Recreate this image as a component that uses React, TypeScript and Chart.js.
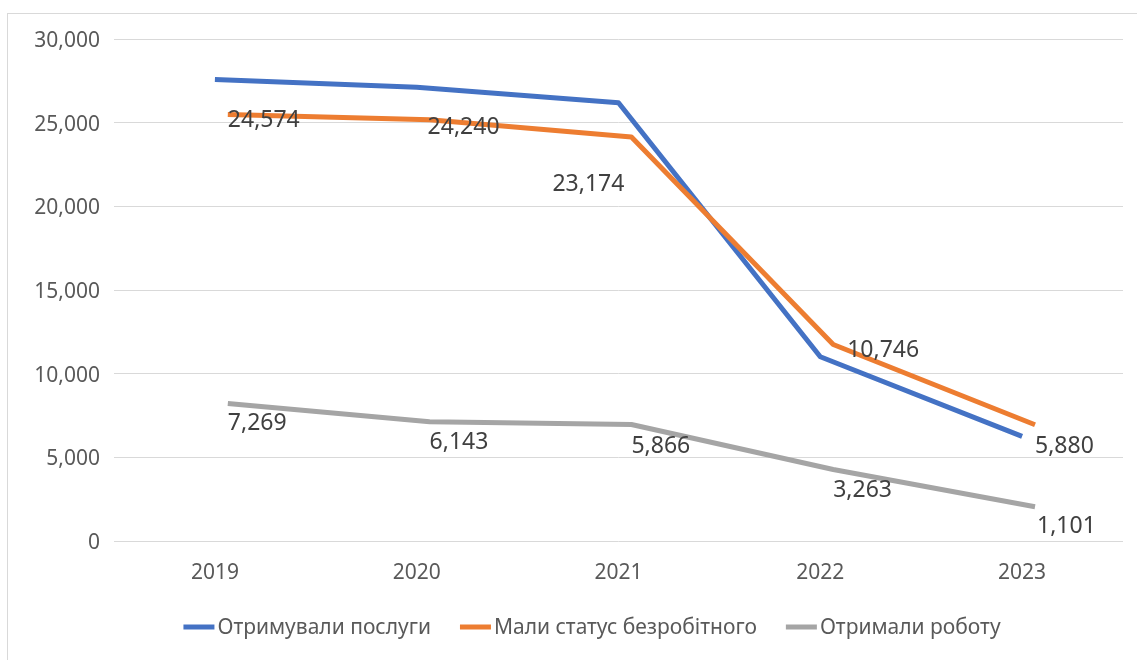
import React, { useEffect, useRef } from 'react';
import { Chart, registerables } from 'chart.js';

Chart.register(...registerables);

// ---------- data ----------
const years = ['2019', '2020', '2021', '2022', '2023'];
const seriesNames = ['Отримували послуги', 'Мали статус безробітного', 'Отримали роботу'];
const receivedServices = [27580, 27120, 26190, 11010, 6250];
const unemployedStatus = [25490, 25180, 24150, 11740, 6950];
const gotJob = [8220, 7120, 6960, 4270, 2050];
// data labels printed on the chart
const statusLabelValues = [24574, 24240, 23174, 10746, 5880];
const jobLabelValues = [7269, 6143, 5866, 3263, 1101];
const yMin = 0;
const yMax = 30000;
const yStep = 5000;

// ---------- style / placement ----------
const COLORS = ['#4472C4', '#ED7D31', '#A5A5A5'];
const FONT = "'Noto Sans', 'DejaVu Sans', sans-serif";
const SHIFT = 0.064; // orange & grey series drawn slightly right of category centre
const statusLabelOffsets = [
  [0, -11],
  [-2, -10],
  [-79, 30],
  [14, -12],
  [0, 2],
];
const jobLabelOffsets = [
  [0, 2],
  [0, 3],
  [0, 2],
  [0, 2],
  [2, 2],
];

const framePlugin = {
  id: 'frame',
  beforeDraw(chart: any) {
    const ctx = chart.ctx;
    ctx.save();
    ctx.fillStyle = '#ffffff';
    ctx.fillRect(0, 0, chart.width, chart.height);
    ctx.strokeStyle = '#d9d9d9';
    ctx.lineWidth = 1;
    ctx.strokeRect(7.5, 13.5, chart.width + 20, chart.height + 20);
    ctx.restore();
  },
};

const labelsPlugin = {
  id: 'valueLabels',
  afterDatasetsDraw(chart: any) {
    const ctx = chart.ctx;
    const xs = chart.scales.x2;
    const ys = chart.scales.y;
    const size = 23;
    ctx.save();
    ctx.font = `${size}px ${FONT}`;
    ctx.fillStyle = '#404040';
    ctx.textAlign = 'left';
    ctx.textBaseline = 'alphabetic';
    const draw = (vals: number[], offs: number[][]) => {
      vals.forEach((v, i) => {
        const x = xs.getPixelForValue(i) + offs[i][0];
        const y = ys.getPixelForValue(v) + offs[i][1] + size * 0.357;
        ctx.fillText(v.toLocaleString('en-US'), x, y);
      });
    };
    draw(statusLabelValues, statusLabelOffsets);
    draw(jobLabelValues, jobLabelOffsets);
    ctx.restore();
  },
};

const legendPlugin = {
  id: 'customLegend',
  afterDraw(chart: any) {
    const ctx = chart.ctx;
    const size = 21;
    const symW = 31;
    const symGap = 3;
    const itemGap = 29;
    const centerX = 592;
    const cy = 627;
    ctx.save();
    ctx.font = `${size}px ${FONT}`;
    const widths = seriesNames.map((n) => ctx.measureText(n).width);
    const total = widths.reduce((a, w) => a + symW + symGap + w, 0) + itemGap * (seriesNames.length - 1);
    let x = centerX - total / 2;
    seriesNames.forEach((n, i) => {
      ctx.strokeStyle = COLORS[i];
      ctx.lineWidth = 5;
      ctx.lineCap = 'butt';
      ctx.beginPath();
      ctx.moveTo(x, cy);
      ctx.lineTo(x + symW, cy);
      ctx.stroke();
      x += symW + symGap;
      ctx.fillStyle = '#595959';
      ctx.textAlign = 'left';
      ctx.textBaseline = 'middle';
      ctx.fillText(n, x, cy + 1);
      x += widths[i] + itemGap;
    });
    ctx.restore();
  },
};

export default function App() {
  const ref = useRef<HTMLCanvasElement>(null);

  useEffect(() => {
    const canvas = ref.current!;
    const lineStyle = (i: number) => ({
      borderColor: COLORS[i],
      backgroundColor: COLORS[i],
      borderWidth: 5,
      pointRadius: 0,
      pointHoverRadius: 0,
      tension: 0,
      borderJoinStyle: 'round' as const,
      borderCapStyle: 'butt' as const,
      fill: false,
    });
    const chart = new Chart(canvas, {
      type: 'line',
      data: {
        labels: years,
        datasets: [
          { label: seriesNames[0], data: receivedServices, xAxisID: 'x', order: 3, ...lineStyle(0) },
          {
            label: seriesNames[1],
            data: unemployedStatus.map((v, i) => ({ x: i, y: v })),
            xAxisID: 'x2',
            order: 2,
            ...lineStyle(1),
          },
          {
            label: seriesNames[2],
            data: gotJob.map((v, i) => ({ x: i, y: v })),
            xAxisID: 'x2',
            order: 1,
            ...lineStyle(2),
          },
        ],
      },
      options: {
        responsive: false,
        animation: false,
        devicePixelRatio: 1,
        layout: { padding: { top: 39, left: 0, right: 14, bottom: 0 } },
        plugins: {
          legend: { display: false },
          tooltip: { enabled: false },
          title: { display: false },
        },
        events: [],
        scales: {
          x: {
            type: 'category',
            offset: true,
            grid: { display: false, drawTicks: false },
            border: { display: false },
            ticks: {
              color: '#595959',
              font: { family: FONT, size: 21 },
              padding: 19,
              maxRotation: 0,
              autoSkip: false,
            },
            afterFit(scale: any) {
              scale.height = 119;
            },
          },
          x2: {
            type: 'linear',
            display: false,
            min: -0.5 - SHIFT,
            max: years.length - 0.5 - SHIFT,
          },
          y: {
            min: yMin,
            max: yMax,
            grid: { color: '#d9d9d9', lineWidth: 1, drawTicks: false },
            border: { display: false },
            ticks: {
              stepSize: yStep,
              color: '#595959',
              font: { family: FONT, size: 21 },
              padding: 14,
              labelOffset: 2,
              callback: (v: any) => Number(v).toLocaleString('en-US'),
            },
            afterFit(scale: any) {
              scale.width = 114;
            },
          },
        },
      },
      plugins: [framePlugin, labelsPlugin, legendPlugin],
    });
    return () => chart.destroy();
  }, []);

  return (
    <div style={{ position: 'fixed', left: 0, top: 0, width: 1137, height: 660, background: '#fff' }}>
      <canvas ref={ref} width={1137} height={660} style={{ display: 'block', width: 1137, height: 660 }} />
    </div>
  );
}
